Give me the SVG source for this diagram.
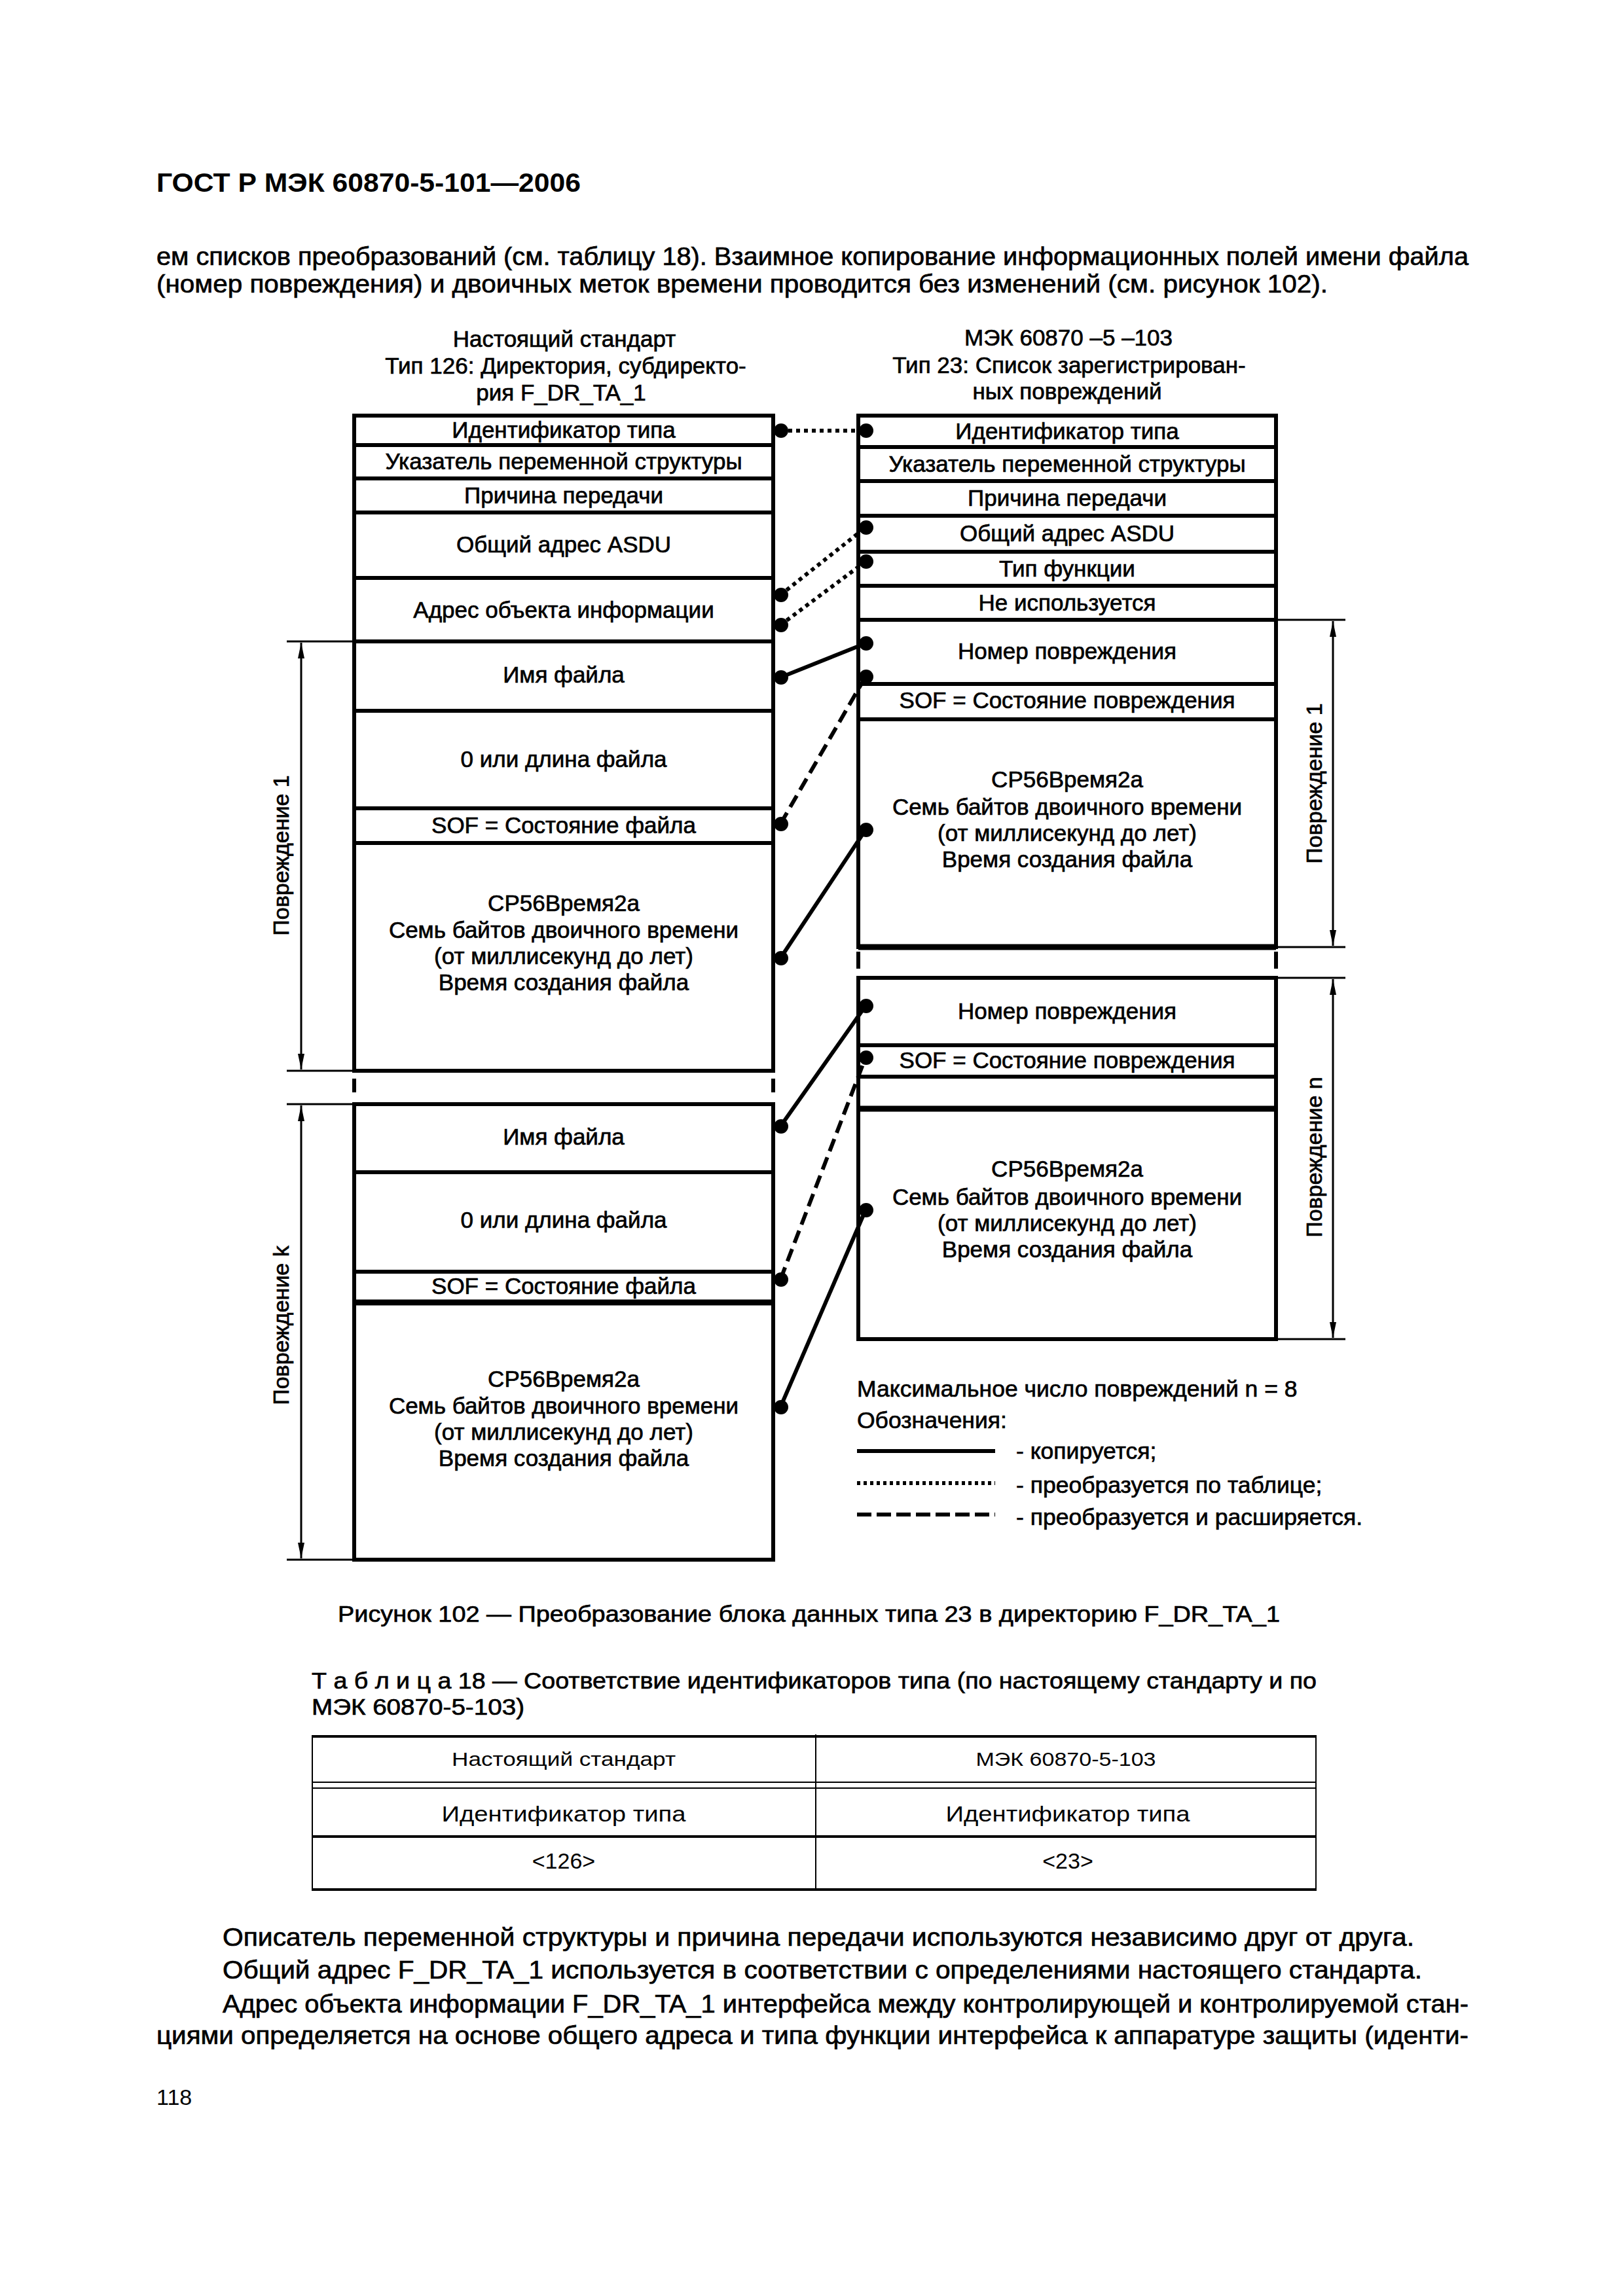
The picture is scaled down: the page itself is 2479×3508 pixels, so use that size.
<svg xmlns="http://www.w3.org/2000/svg" width="2479" height="3508" viewBox="0 0 2479 3508">
<style>
  text { font-family: "Liberation Sans", Arial, sans-serif; fill: #000; }
  .t, .v, .h, .lg, .body, .cap { stroke: #000; stroke-width: 0.7; }
  .t { font-size: 35px; text-anchor: middle; }
  .v { font-size: 34px; text-anchor: middle; }
  .h { font-size: 35px; text-anchor: middle; }
  .lg { font-size: 35.5px; }
  .body { font-size: 39px; }
  .cap { font-size: 35px; }
  .fld { fill: none; stroke: #000; stroke-width: 6; }
  .thick { stroke: #000; stroke-width: 9; fill: none; }
  .side { stroke: #000; stroke-width: 6; fill: none; }
  .dim { stroke: #000; stroke-width: 3; fill: none; }
  .solid { stroke: #000; stroke-width: 6; fill: none; }
  .dotted { stroke: #000; stroke-width: 6; fill: none; stroke-dasharray: 6 6; }
  .dashed { stroke: #000; stroke-width: 6; fill: none; stroke-dasharray: 20 10; }
  .dot { fill: #000; }
  .tbl { stroke: #000; fill: none; }
</style>
<defs>
  <marker id="ah" viewBox="0 0 24 10" refX="24" refY="5" markerWidth="24" markerHeight="10" markerUnits="userSpaceOnUse" orient="auto-start-reverse">
    <path d="M0,0 L24,5 L0,10 z" fill="#000"/>
  </marker>
</defs>
<rect x="0" y="0" width="2479" height="3508" fill="#fff"/>

<!-- page header and text -->
<text x="239" y="293" font-size="40" font-weight="bold" textLength="648" lengthAdjust="spacingAndGlyphs">ГОСТ Р МЭК 60870-5-101—2006</text>
<text class="body" x="239" y="405" textLength="2004" lengthAdjust="spacingAndGlyphs">ем списков преобразований (см. таблицу 18). Взаимное копирование информационных полей имени файла</text>
<text class="body" x="239" y="447" textLength="1789" lengthAdjust="spacingAndGlyphs">(номер повреждения) и двоичных меток времени проводится без изменений (см. рисунок 102).</text>

<!-- column headings -->
<g id="heading-left">
  <text class="h" x="862" y="530">Настоящий стандарт</text>
  <text class="h" x="864" y="571">Тип 126: Директория, субдиректо-</text>
  <text class="h" x="857" y="612">рия F_DR_TA_1</text>
</g>
<g id="heading-right">
  <text class="h" x="1632" y="528">МЭК 60870 –5 –103</text>
  <text class="h" x="1633" y="570">Тип 23: Список зарегистрирован-</text>
  <text class="h" x="1630" y="610">ных повреждений</text>
</g>

<!-- left block: F_DR_TA_1 -->
<g id="left-block">
  <g id="l-type"><rect class="fld" x="541" y="635" width="640" height="45"/><text class="t" x="861" y="669">Идентификатор типа</text></g>
  <g id="l-vsq"><rect class="fld" x="541" y="680" width="640" height="51"/><text class="t" x="861" y="717">Указатель переменной структуры</text></g>
  <g id="l-cot"><rect class="fld" x="541" y="731" width="640" height="52"/><text class="t" x="861" y="769">Причина передачи</text></g>
  <g id="l-asdu"><rect class="fld" x="541" y="783" width="640" height="100"/><text class="t" x="861" y="844">Общий адрес ASDU</text></g>
  <g id="l-ioa"><rect class="fld" x="541" y="883" width="640" height="97"/><text class="t" x="861" y="944">Адрес объекта информации</text></g>
  <g id="l-name1"><rect class="fld" x="541" y="980" width="640" height="106"/><text class="t" x="861" y="1043">Имя файла</text></g>
  <g id="l-len1"><rect class="fld" x="541" y="1086" width="640" height="149"/><text class="t" x="861" y="1172">0 или длина файла</text></g>
  <g id="l-sof1"><rect class="fld" x="541" y="1235" width="640" height="53"/><text class="t" x="861" y="1273">SOF = Состояние файла</text></g>
  <g id="l-time1"><rect class="fld" x="541" y="1288" width="640" height="348"/>
    <text class="t" x="861" y="1392">СР56Время2а</text>
    <text class="t" x="861" y="1433">Семь байтов двоичного времени</text>
    <text class="t" x="861" y="1473">(от миллисекунд до лет)</text>
    <text class="t" x="861" y="1513">Время создания файла</text>
  </g>
  <g id="l-gap">
    <line class="side" x1="541" y1="1648" x2="541" y2="1669"/>
    <line class="side" x1="1181" y1="1648" x2="1181" y2="1669"/>
  </g>
  <g id="l-name2"><rect class="fld" x="541" y="1687" width="640" height="104"/><text class="t" x="861" y="1749">Имя файла</text></g>
  <g id="l-len2"><rect class="fld" x="541" y="1791" width="640" height="152"/><text class="t" x="861" y="1876">0 или длина файла</text></g>
  <g id="l-sof2"><rect class="fld" x="541" y="1943" width="640" height="47"/><text class="t" x="861" y="1977">SOF = Состояние файла</text></g>
  <g id="l-time2"><rect class="fld" x="541" y="1990" width="640" height="393"/>
    <line class="thick" x1="541" y1="1990" x2="1181" y2="1990"/>
    <text class="t" x="861" y="2119">СР56Время2а</text>
    <text class="t" x="861" y="2160">Семь байтов двоичного времени</text>
    <text class="t" x="861" y="2200">(от миллисекунд до лет)</text>
    <text class="t" x="861" y="2240">Время создания файла</text>
  </g>
</g>

<!-- right block: type 23 -->
<g id="right-block">
  <g id="r-type"><rect class="fld" x="1311" y="635" width="638" height="48"/><text class="t" x="1630" y="671">Идентификатор типа</text></g>
  <g id="r-vsq"><rect class="fld" x="1311" y="683" width="638" height="52"/><text class="t" x="1630" y="721">Указатель переменной структуры</text></g>
  <g id="r-cot"><rect class="fld" x="1311" y="735" width="638" height="53"/><text class="t" x="1630" y="773">Причина передачи</text></g>
  <g id="r-asdu"><rect class="fld" x="1311" y="788" width="638" height="55"/><text class="t" x="1630" y="827">Общий адрес ASDU</text></g>
  <g id="r-fun"><rect class="fld" x="1311" y="843" width="638" height="52"/><text class="t" x="1630" y="881">Тип функции</text></g>
  <g id="r-unused"><rect class="fld" x="1311" y="895" width="638" height="52"/><text class="t" x="1630" y="933">Не используется</text></g>
  <g id="r-num1"><rect class="fld" x="1311" y="947" width="638" height="98"/><text class="t" x="1630" y="1007">Номер повреждения</text></g>
  <g id="r-sof1"><rect class="fld" x="1311" y="1045" width="638" height="54"/><text class="t" x="1630" y="1082">SOF = Состояние повреждения</text></g>
  <g id="r-time1"><rect class="fld" x="1311" y="1099" width="638" height="348"/>
    <line class="thick" x1="1311" y1="1447" x2="1949" y2="1447"/>
    <text class="t" x="1630" y="1203">СР56Время2а</text>
    <text class="t" x="1630" y="1245">Семь байтов двоичного времени</text>
    <text class="t" x="1630" y="1285">(от миллисекунд до лет)</text>
    <text class="t" x="1630" y="1325">Время создания файла</text>
  </g>
  <g id="r-gap">
    <line class="side" x1="1311" y1="1454" x2="1311" y2="1480"/>
    <line class="side" x1="1949" y1="1454" x2="1949" y2="1480"/>
  </g>
  <g id="r-num2"><rect class="fld" x="1311" y="1494" width="638" height="103"/><text class="t" x="1630" y="1557">Номер повреждения</text></g>
  <g id="r-sof2"><rect class="fld" x="1311" y="1597" width="638" height="48"/><text class="t" x="1630" y="1632">SOF = Состояние повреждения</text></g>
  <g id="r-empty"><rect class="fld" x="1311" y="1645" width="638" height="49"/></g>
  <g id="r-time2"><rect class="fld" x="1311" y="1694" width="638" height="352"/>
    <line class="thick" x1="1311" y1="1694" x2="1949" y2="1694"/>
    <text class="t" x="1630" y="1798">СР56Время2а</text>
    <text class="t" x="1630" y="1841">Семь байтов двоичного времени</text>
    <text class="t" x="1630" y="1881">(от миллисекунд до лет)</text>
    <text class="t" x="1630" y="1921">Время создания файла</text>
  </g>
</g>

<!-- dimension marks -->
<g id="dim-left-1">
  <line class="dim" x1="438" y1="980" x2="541" y2="980"/>
  <line class="dim" x1="438" y1="1636" x2="541" y2="1636"/>
  <line class="dim" x1="460" y1="982" x2="460" y2="1634" marker-start="url(#ah)" marker-end="url(#ah)"/>
  <text class="v" transform="translate(441,1307) rotate(-90)">Повреждение 1</text>
</g>
<g id="dim-left-k">
  <line class="dim" x1="438" y1="1687" x2="541" y2="1687"/>
  <line class="dim" x1="438" y1="2383" x2="541" y2="2383"/>
  <line class="dim" x1="460" y1="1689" x2="460" y2="2381" marker-start="url(#ah)" marker-end="url(#ah)"/>
  <text class="v" transform="translate(441,2025) rotate(-90)">Повреждение k</text>
</g>
<g id="dim-right-1">
  <line class="dim" x1="1949" y1="947" x2="2055" y2="947"/>
  <line class="dim" x1="1949" y1="1447" x2="2055" y2="1447"/>
  <line class="dim" x1="2036" y1="949" x2="2036" y2="1445" marker-start="url(#ah)" marker-end="url(#ah)"/>
  <text class="v" transform="translate(2019,1197) rotate(-90)">Повреждение 1</text>
</g>
<g id="dim-right-n">
  <line class="dim" x1="1949" y1="1494" x2="2055" y2="1494"/>
  <line class="dim" x1="1949" y1="2046" x2="2055" y2="2046"/>
  <line class="dim" x1="2036" y1="1496" x2="2036" y2="2044" marker-start="url(#ah)" marker-end="url(#ah)"/>
  <text class="v" transform="translate(2019,1768) rotate(-90)">Повреждение n</text>
</g>

<!-- connectors -->
<g id="connectors">
  <line class="dotted" x1="1192" y1="658" x2="1322" y2="658"/>
  <line class="dotted" x1="1192" y1="909" x2="1322" y2="806"/>
  <line class="dotted" x1="1192" y1="955" x2="1322" y2="858"/>
  <line class="solid" x1="1192" y1="1035" x2="1322" y2="983"/>
  <line class="dashed" x1="1192" y1="1259" x2="1322" y2="1034"/>
  <line class="solid" x1="1192" y1="1464" x2="1322" y2="1268"/>
  <line class="solid" x1="1192" y1="1721" x2="1322" y2="1537"/>
  <line class="dashed" x1="1192" y1="1955" x2="1322" y2="1616"/>
  <line class="solid" x1="1192" y1="2150" x2="1322" y2="1849"/>
  <circle class="dot" cx="1193" cy="658" r="11"/>
  <circle class="dot" cx="1323" cy="658" r="11"/>
  <circle class="dot" cx="1193" cy="909" r="11"/>
  <circle class="dot" cx="1323" cy="806" r="11"/>
  <circle class="dot" cx="1193" cy="955" r="11"/>
  <circle class="dot" cx="1323" cy="858" r="11"/>
  <circle class="dot" cx="1193" cy="1035" r="11"/>
  <circle class="dot" cx="1323" cy="983" r="11"/>
  <circle class="dot" cx="1193" cy="1259" r="11"/>
  <circle class="dot" cx="1323" cy="1034" r="11"/>
  <circle class="dot" cx="1193" cy="1464" r="11"/>
  <circle class="dot" cx="1323" cy="1268" r="11"/>
  <circle class="dot" cx="1193" cy="1721" r="11"/>
  <circle class="dot" cx="1323" cy="1537" r="11"/>
  <circle class="dot" cx="1193" cy="1955" r="11"/>
  <circle class="dot" cx="1323" cy="1616" r="11"/>
  <circle class="dot" cx="1193" cy="2150" r="11"/>
  <circle class="dot" cx="1323" cy="1849" r="11"/>
</g>

<!-- legend -->
<g id="legend">
  <text class="lg" x="1309" y="2134">Максимальное число повреждений n = 8</text>
  <text class="lg" x="1309" y="2182">Обозначения:</text>
  <line class="solid" x1="1309" y1="2217" x2="1520" y2="2217"/>
  <text class="lg" x="1552" y="2229">- копируется;</text>
  <line class="solid" x1="1309" y1="2266" x2="1520" y2="2266" stroke-dasharray="5 5"/>
  <text class="lg" x="1552" y="2281">- преобразуется по таблице;</text>
  <line class="solid" x1="1309" y1="2314" x2="1520" y2="2314" stroke-dasharray="22 8"/>
  <text class="lg" x="1552" y="2330">- преобразуется и расширяется.</text>
</g>

<!-- caption -->
<text class="cap" x="516" y="2478" textLength="1439" lengthAdjust="spacingAndGlyphs">Рисунок 102 — Преобразование блока данных типа 23 в директорию F_DR_TA_1</text>
<text class="cap" x="476" y="2580" textLength="1535" lengthAdjust="spacingAndGlyphs">Т а б л и ц а  18 — Соответствие идентификаторов типа (по настоящему стандарту и по</text>
<text class="cap" x="476" y="2620" textLength="325" lengthAdjust="spacingAndGlyphs">МЭК 60870-5-103)</text>

<!-- table -->
<g id="table18">
  <line class="tbl" stroke-width="4" x1="476" y1="2653" x2="2011" y2="2653"/>
  <line class="tbl" stroke-width="2" x1="476" y1="2723" x2="2011" y2="2723"/>
  <line class="tbl" stroke-width="2" x1="476" y1="2732" x2="2011" y2="2732"/>
  <line class="tbl" stroke-width="4" x1="476" y1="2806" x2="2011" y2="2806"/>
  <line class="tbl" stroke-width="4" x1="476" y1="2887" x2="2011" y2="2887"/>
  <line class="tbl" stroke-width="2" x1="477" y1="2653" x2="477" y2="2887"/>
  <line class="tbl" stroke-width="2" x1="2010" y1="2653" x2="2010" y2="2887"/>
  <line class="tbl" stroke-width="2" x1="1246" y1="2650" x2="1246" y2="2887"/>
  <text x="861" y="2698" font-size="29" text-anchor="middle" textLength="342" lengthAdjust="spacingAndGlyphs">Настоящий стандарт</text>
  <text x="1628" y="2698" font-size="29" text-anchor="middle" textLength="275" lengthAdjust="spacingAndGlyphs">МЭК 60870-5-103</text>
  <text x="861" y="2783" font-size="34" text-anchor="middle" textLength="373" lengthAdjust="spacingAndGlyphs">Идентификатор типа</text>
  <text x="1631" y="2783" font-size="34" text-anchor="middle" textLength="373" lengthAdjust="spacingAndGlyphs">Идентификатор типа</text>
  <text x="861" y="2855" font-size="34" text-anchor="middle">&lt;126&gt;</text>
  <text x="1631" y="2855" font-size="34" text-anchor="middle">&lt;23&gt;</text>
</g>

<!-- closing paragraphs -->
<text class="body" x="340" y="2973" textLength="1820" lengthAdjust="spacingAndGlyphs">Описатель переменной структуры и причина передачи используются независимо друг от друга.</text>
<text class="body" x="340" y="3023" textLength="1832" lengthAdjust="spacingAndGlyphs">Общий адрес F_DR_TA_1 используется в соответствии с определениями настоящего стандарта.</text>
<text class="body" x="340" y="3075" textLength="1903" lengthAdjust="spacingAndGlyphs">Адрес объекта информации F_DR_TA_1 интерфейса между контролирующей и контролируемой стан-</text>
<text class="body" x="239" y="3123" textLength="2004" lengthAdjust="spacingAndGlyphs">циями определяется на основе общего адреса и типа функции интерфейса к аппаратуре защиты (иденти-</text>
<text x="239" y="3216" font-size="34">118</text>
</svg>
